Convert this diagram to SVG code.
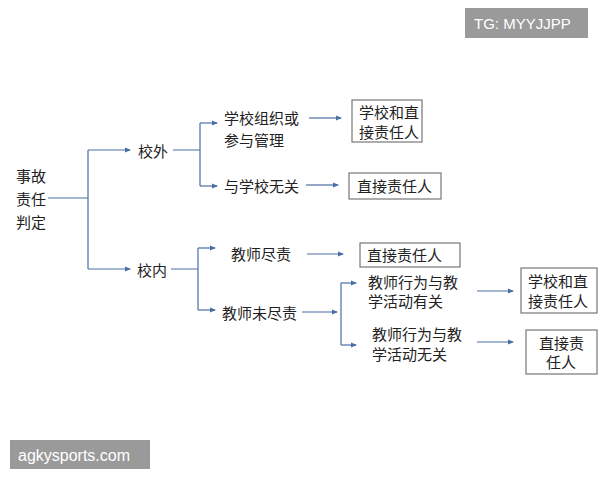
<svg xmlns="http://www.w3.org/2000/svg" width="600" height="480" viewBox="0 0 600 480">
<defs>
<marker id="a" markerWidth="6" markerHeight="6" refX="5" refY="3" orient="auto" markerUnits="userSpaceOnUse"><path d="M0,0.5 L6,3 L0,5.5Z" fill="#4a6fa5"/></marker>
<style>
text{font-family:"Noto Sans CJK SC","Liberation Sans",sans-serif;font-size:15px;fill:#222}
.c path{fill:none;stroke:#4a6fa5;stroke-width:1.2}
.b{fill:#fff;stroke:#777;stroke-width:1.2}
</style>
</defs>
<rect width="600" height="480" fill="#fff"/>
<g class="c" id="connectors">
<path d="M48,198 H88 M88,150 V269"/>
<path d="M88,150 H130" marker-end="url(#a)"/>
<path d="M88,269 H130" marker-end="url(#a)"/>
<path d="M173,150 H200 M200,123 V186"/>
<path d="M200,123 H217" marker-end="url(#a)"/>
<path d="M200,186 H217" marker-end="url(#a)"/>
<path d="M309,118 H341" marker-end="url(#a)"/>
<path d="M306,185 H338" marker-end="url(#a)"/>
<path d="M171,269 H198 M198,248 V310"/>
<path d="M198,248 H215" marker-end="url(#a)"/>
<path d="M198,310 H215" marker-end="url(#a)"/>
<path d="M307,254 H343" marker-end="url(#a)"/>
<path d="M302,312 H337" marker-end="url(#a)"/>
<path d="M341,283 V345"/>
<path d="M341,283 H356" marker-end="url(#a)"/>
<path d="M341,345 H356" marker-end="url(#a)"/>
<path d="M477,291 H513" marker-end="url(#a)"/>
<path d="M477,342 H513" marker-end="url(#a)"/>
</g>
<g id="root"><text x="16" y="182">事故</text><text x="16" y="205">责任</text><text x="16" y="228">判定</text></g>
<g id="out"><text x="138" y="157">校外</text></g>
<g id="in"><text x="137" y="276">校内</text></g>
<g id="n1"><text x="224" y="124">学校组织或</text><text x="224" y="146">参与管理</text></g>
<g id="n2"><text x="224" y="192">与学校无关</text></g>
<g id="r1"><rect class="b" x="352" y="100" width="70" height="42"/><text x="359" y="118">学校和直</text><text x="359" y="138">接责任人</text></g>
<g id="r2"><rect class="b" x="349" y="173" width="92" height="26"/><text x="357" y="192">直接责任人</text></g>
<g id="n3"><text x="231" y="260">教师尽责</text></g>
<g id="n4"><text x="222" y="319">教师未尽责</text></g>
<g id="r3"><rect class="b" x="360" y="243" width="100" height="24"/><text x="367" y="261">直接责任人</text></g>
<g id="n5"><text x="368" y="288">教师行为与教</text><text x="368" y="307">学活动有关</text></g>
<g id="n6"><text x="372" y="340">教师行为与教</text><text x="372" y="360">学活动无关</text></g>
<g id="r4"><rect class="b" x="521" y="268" width="76" height="45"/><text x="528" y="287">学校和直</text><text x="528" y="307">接责任人</text></g>
<g id="r5"><rect class="b" x="526" y="330" width="71" height="44"/><text x="539" y="349">直接责</text><text x="546" y="368">任人</text></g>
<g id="wm"><rect x="465" y="8" width="123" height="30" fill="#9a9a9a"/><text x="474" y="29" style="font-family:'Liberation Sans',sans-serif;font-size:15px;fill:#fff">TG: MYYJJPP</text>
<rect x="10" y="440" width="140" height="29" fill="#9a9a9a"/><text x="18" y="461" style="font-family:'Liberation Sans',sans-serif;font-size:16px;fill:#fff">agkysports.com</text></g>
</svg>
